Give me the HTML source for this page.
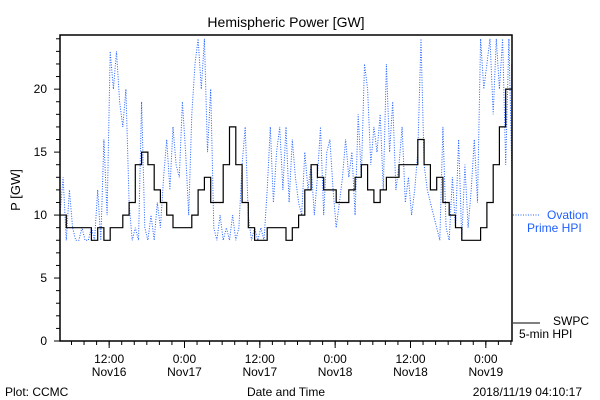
<!DOCTYPE html>
<html><head><meta charset="utf-8"><style>
body{margin:0;background:#fff}
svg{display:block;font-family:"Liberation Sans",sans-serif}
</style></head><body>
<svg id="chart" width="600" height="400" viewBox="0 0 600 400" xmlns="http://www.w3.org/2000/svg">
<defs><clipPath id="plotclip"><rect x="60" y="35" width="452" height="306"/></clipPath></defs>
<rect width="600" height="400" fill="#fff"/>
<text x="286" y="27" font-size="14" text-anchor="middle">Hemispheric Power [GW]</text>
<g id="series" clip-path="url(#plotclip)"></g>
<g id="axes"></g>
<text transform="translate(20,190) rotate(-90)" font-size="13" text-anchor="middle">P [GW]</text>
<text x="286" y="396" font-size="12" text-anchor="middle">Date and Time</text>
<text x="5" y="396" font-size="12">Plot: CCMC</text>
<text x="582" y="396" font-size="12" text-anchor="end">2018/11/19 04:10:17</text>
<g>
<line x1="513" y1="215" x2="540" y2="215" stroke="#1f5fff" stroke-width="1" stroke-dasharray="1 1.5"/>
<text x="547" y="219" font-size="12" fill="#1f5fff">Ovation</text>
<text x="527" y="232" font-size="12" fill="#1f5fff">Prime HPI</text>
</g>
<g>
<line x1="513" y1="323" x2="540" y2="323" stroke="#000" stroke-width="1"/>
<text x="553" y="325" font-size="12">SWPC</text>
<text x="519" y="338" font-size="12">5-min HPI</text>
</g>
</svg>
<script>
const swpcValues = [10,9,9,9,9,8,9,8,9,9,10,11,14,15,14,12,11,10,9,9,9,10,12,13,11,11,14,17,14,11,9,8,8,9,9,9,8,9,10,12,14,13,12,12,11,11,12,13,14,12,11,12,13,13,14,14,14,16,14,12,13,11,10,9,8,8,8,9,11,14,17,20,22];
const ovationValues = [10,13,8,12, 9,8,8,9,8,8,9,8, 12,8,16,10, 23,20,23,19, 17,20,11,8, 9,8,19,9, 8,10,8,11, 9,13,16,12, 17,14,13,19, 15,10,18,22, 24,20,24,15, 20,9,8,10, 8,9,8,10, 8,9,14,17, 10,8,9,8, 9,8,12,17, 11,15,17,12, 17,11,16,13, 11,10,15,12, 14,10,13,17, 10,15,16,12, 9,11,13,16, 13,15,10,18, 13,22,20,14, 17,15,18,12, 22,15,19,12, 14,17,11,13, 10,12,15,24, 14,12,11,10, 9,8,17,9, 8,13,9,16, 8,14,9,12, 16,11,24,20, 22,24,18,24, 20,24,14,24, 13];
const yTicks = [0,5,10,15,20];
const xTickHours = [7.83,19.83,31.83,43.83,55.83,67.83];
const xTickLabels = [["12:00","Nov16"],["0:00","Nov17"],["12:00","Nov17"],["0:00","Nov18"],["12:00","Nov18"],["0:00","Nov19"]];

const NS="http://www.w3.org/2000/svg";
const X0=60,X1=512,Y0=341,Y1=35,H=72,YMAX=24.3;
const xs=h=>X0+(X1-X0)*h/H;
const ys=v=>Y0-(Y0-Y1)*v/YMAX;
function mk(tag,attrs,parent){const e=document.createElementNS(NS,tag);for(const k in attrs)e.setAttribute(k,attrs[k]);parent.appendChild(e);return e;}
const series=document.getElementById('series');
const axes=document.getElementById('axes');

let d='';
ovationValues.forEach((v,i)=>{const h=i*0.5;d+=(i?'L':'M')+xs(h).toFixed(1)+' '+ys(v).toFixed(1)+' ';});
const ov=mk('path',{d:d,fill:'none',stroke:'#1f5fff','stroke-width':1,'stroke-dasharray':'1 1.5'},series);



d='';
swpcValues.forEach((v,i)=>{const x=xs(i),y=ys(v);if(i===0)d+='M'+x+' '+y;else d+=' H'+x.toFixed(1)+' V'+y.toFixed(1);});
d+=' H'+xs(H);
const sw=mk('path',{d:d,fill:'none',stroke:'#000','stroke-width':1.2},series);



const fr=mk('rect',{x:X0,y:Y1,width:X1-X0,height:Y0-Y1,fill:'none',stroke:'#000','stroke-width':1.5},axes);



for(let v=0;v<=24;v++){
  const major=v%5===0;
  const t=mk('line',{x1:X0-(major?6:4),x2:X0,y1:ys(v),y2:ys(v),stroke:'#000'},axes);
  
  
}
yTicks.forEach(v=>{
  const t=mk('text',{x:47,y:ys(v)+4,'font-size':12,'text-anchor':'end'},axes);
  t.textContent=v;
  
  
});
for(let h=xTickHours[0]%2;h<=H;h+=2){
  const t=mk('line',{x1:xs(h),x2:xs(h),y1:Y0,y2:Y0+4,stroke:'#000'},axes);
  
  
}
xTickHours.forEach((h,i)=>{
  const t=mk('line',{x1:xs(h),x2:xs(h),y1:Y0,y2:Y0+7,stroke:'#000'},axes);
  
  
  const a=mk('text',{x:xs(h),y:363,'font-size':12,'text-anchor':'middle'},axes);
  a.textContent=xTickLabels[i][0];
  
  
  const b=mk('text',{x:xs(h),y:376,'font-size':12,'text-anchor':'middle'},axes);
  b.textContent=xTickLabels[i][1];
  
  
});
</script>
</body></html>
